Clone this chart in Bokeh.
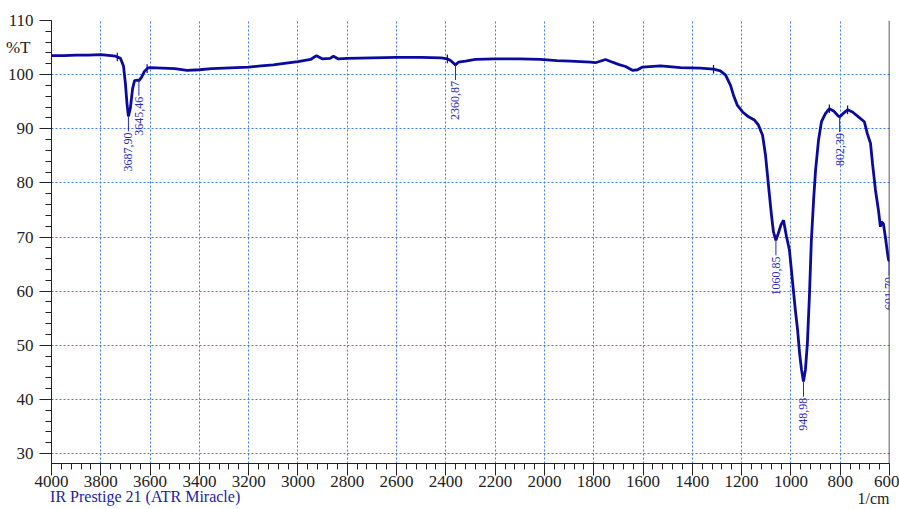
import numpy as np
from bokeh.plotting import figure
from bokeh.models import Range1d, FixedTicker, Span, LinearAxis
from bokeh.core.properties import value
from bokeh.embed import file_html
from bokeh.resources import INLINE

# ---- data ----
wavenumber = [4000, 3950, 3900, 3850, 3800, 3760, 3740, 3720, 3708, 3700, 3694, 3688,
              3680, 3671, 3663, 3651, 3645, 3635, 3623, 3610, 3600, 3550, 3500, 3450,
              3400, 3350, 3300, 3250, 3200, 3150, 3100, 3071, 3000, 2949, 2925, 2900,
              2870, 2856, 2836, 2800, 2700, 2600, 2500, 2420, 2393, 2381, 2361, 2349,
              2320, 2280, 2200, 2100, 2016, 1950, 1894, 1813, 1793, 1752, 1724, 1700,
              1671, 1643, 1622, 1602, 1529, 1448, 1367, 1314, 1286, 1265, 1245, 1233,
              1217, 1196, 1172, 1148, 1132, 1115, 1103, 1095, 1087, 1079, 1071, 1061,
              1051, 1040, 1030, 1018, 1006, 998, 990, 982, 973, 965, 957, 949,
              941, 933, 925, 917, 908, 900, 888, 876, 860, 844, 827, 807,
              802, 791, 770, 750, 726, 702, 690, 677, 669, 657, 645, 637,
              633, 625, 617, 608, 604, 600]
transmittance = [103.5, 103.5, 103.6, 103.6, 103.7, 103.5, 103.4, 103.0, 101.6, 98.3, 94.8, 92.3,
                 93.8, 97.4, 98.9, 99.0, 98.9, 99.5, 100.6, 101.2, 101.3, 101.2, 101.1, 100.8,
                 100.9, 101.1, 101.2, 101.3, 101.4, 101.6, 101.8, 102.0, 102.4, 102.8, 103.5, 102.9,
                 103.0, 103.4, 102.9, 103.0, 103.1, 103.2, 103.2, 103.1, 102.9, 102.6, 101.8, 102.3,
                 102.5, 102.8, 102.9, 102.9, 102.8, 102.6, 102.5, 102.3, 102.2, 102.8, 102.3, 101.9,
                 101.5, 100.8, 100.9, 101.4, 101.6, 101.3, 101.2, 101.0, 100.7, 99.9, 98.0, 96.2,
                 94.3, 93.1, 92.2, 91.6, 90.7, 88.8, 85.1, 81.4, 77.7, 74.1, 71.0, 69.4,
                 70.7, 72.3, 73.1, 70.1, 67.6, 63.9, 60.2, 56.5, 52.9, 48.6, 45.5, 43.3,
                 45.5, 50.5, 59.0, 69.4, 76.8, 82.3, 87.9, 91.3, 92.8, 93.7, 93.3, 92.3,
                 92.2, 92.7, 93.5, 93.1, 92.2, 91.3, 89.1, 87.3, 83.6, 78.7, 75.0, 71.9,
                 72.8, 72.5, 70.1, 67.0, 65.8, 65.5]

peak_wavenumbers = [3687.90, 3645.46, 2360.87, 1060.85, 948.98, 802.39, 601.70]
peak_labels = ["3687,90", "3645,46", "2360,87", "1060,85", "948,98", "802,39", "601,70"]
marker_wavenumbers = [3733, 3612, 2394, 1314, 844, 770]

x_major_ticks = list(range(600, 4001, 200))
x_minor_ticks = list(range(600, 4001, 40))
y_major_ticks = list(range(30, 111, 10))
y_minor_ticks = list(range(28, 111, 2))

y_title = "%T"
x_unit = "1/cm"
instrument = "IR Prestige 21 (ATR Miracle)"

# ---- figure ----
SERIF = "Liberation Serif"
AX_FONT = "'Liberation Serif'"
LINE_C = "#0a0a9e"
LABEL_C = "#2a2ab4"
AX_C = "#222222"

Y0, Y1 = 28.16, 110
p = figure(width=899, height=509, x_range=Range1d(4000, 600), y_range=Range1d(Y0, Y1),
           output_backend="svg", toolbar_location=None,
           min_border_left=51, min_border_right=10, min_border_top=20, min_border_bottom=46)
p.outline_line_color = None
p.background_fill_color = "white"
p.border_fill_color = "white"

p.xaxis.ticker = FixedTicker(ticks=x_major_ticks, minor_ticks=x_minor_ticks)
p.yaxis.ticker = FixedTicker(ticks=y_major_ticks, minor_ticks=y_minor_ticks)
for ax in (p.xaxis[0], p.yaxis[0]):
    ax.major_tick_out = 12
    ax.major_tick_in = 0
    ax.minor_tick_out = 6
    ax.minor_tick_in = 0
    ax.axis_line_color = AX_C
    ax.major_tick_line_color = AX_C
    ax.minor_tick_line_color = AX_C
    ax.major_label_text_font = AX_FONT
    ax.major_label_text_font_size = "17px"
    ax.major_label_text_color = AX_C
p.xaxis.major_label_standoff = 0
p.yaxis.major_label_standoff = 6


def text_axis(tick, label, color, standoff, size="16px"):
    return LinearAxis(ticker=FixedTicker(ticks=[tick], minor_ticks=[]),
                      major_label_overrides={tick: label},
                      major_tick_out=0, major_tick_in=0, minor_tick_out=0, minor_tick_in=0,
                      axis_line_color=None, major_tick_line_color=None,
                      minor_tick_line_color=None, major_label_standoff=standoff,
                      major_label_text_font=AX_FONT, major_label_text_font_size=size,
                      major_label_text_color=color)


# "%T" beside the y axis, top
p.add_layout(text_axis(105, y_title, AX_C, -26, "17px"), "left")
# instrument note (blue, left) and unit (right) below the x axis, on one row
p.add_layout(text_axis(3620, instrument, "#1c1cae", -2), "below")
p.add_layout(text_axis(665, x_unit, AX_C, -18), "below")

p.grid.grid_line_color = "#3d7ef0"
p.grid.grid_line_dash = "2 2"
p.grid.grid_line_width = 1

p.add_layout(Span(location=600, dimension="height", line_color=AX_C, line_width=1.5))

# spectrum
p.line(x=wavenumber, y=transmittance, line_color=LINE_C, line_width=2.8)

# small peak-table markers crossing the curve
wn_inc = np.array(wavenumber[::-1], dtype=float)
tr_inc = np.array(transmittance[::-1], dtype=float)
mk_y = np.interp(marker_wavenumbers, wn_inc, tr_inc)
p.segment(x0=marker_wavenumbers, y0=mk_y - 0.8, x1=marker_wavenumbers, y1=mk_y + 0.8,
          line_color=LINE_C, line_width=1.2)

# peak labels
pk_y = np.interp(peak_wavenumbers, wn_inc, tr_inc)
GAP = 2.8
p.segment(x0=peak_wavenumbers, y0=pk_y, x1=peak_wavenumbers, y1=pk_y - GAP,
          line_color=LABEL_C, line_width=1)
p.text(x=peak_wavenumbers, y=list(pk_y - GAP - 0.2), text=peak_labels, angle=np.pi / 2,
       text_align="right", text_baseline="middle", text_font=value(SERIF),
       text_font_size="12px", text_color=LABEL_C)

open("out.html", "w").write(file_html(p, INLINE))
